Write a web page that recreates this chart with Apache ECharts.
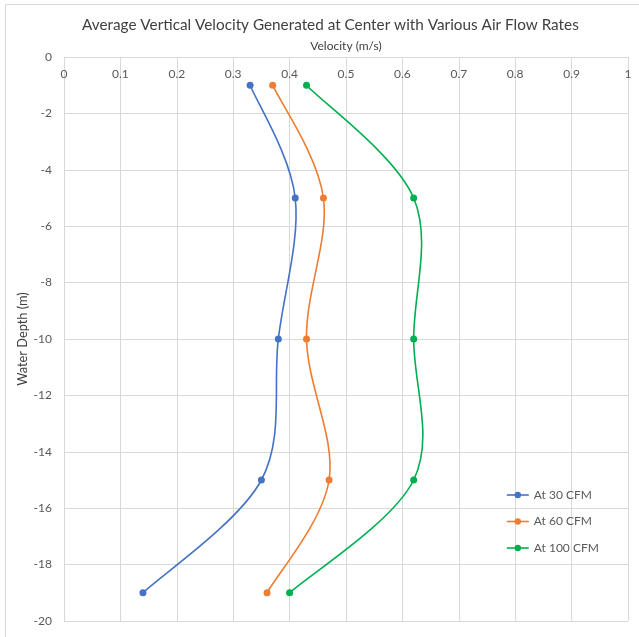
<!DOCTYPE html>
<html>
<head>
<meta charset="utf-8">
<script src="https://cdn.jsdelivr.net/npm/echarts@6/dist/echarts.min.js"></script>
<style>
  html, body { margin: 0; padding: 0; background: #ffffff; }
  #chart { width: 639px; height: 637px; }
</style>
</head>
<body>
<div id="chart"></div>
<script>
// Water depths (m) at which velocity was measured
const depths = [-1, -5, -10, -15, -19];
// Average vertical velocity (m/s) at the center for each air flow rate
const vel30 = [0.33, 0.41, 0.38, 0.35, 0.14];
const vel60 = [0.37, 0.46, 0.43, 0.47, 0.36];
const vel100 = [0.43, 0.62, 0.62, 0.62, 0.40];
const seriesNames = ['At 30 CFM', 'At 60 CFM', 'At 100 CFM'];
const seriesColors = ['#4472C4', '#ED7D31', '#00B050'];

const font = 'Lato, "Liberation Sans", sans-serif';
const textColor = '#595959';

function pairs(vals) {
  return vals.map((v, i) => [v, depths[i]]);
}

// Smoothed curve through the points (Catmull-Rom style cubic Bezier segments),
// computed in pixel space from the axis scales.
function curveRenderer(vals, color) {
  return function (params, api) {
    if (params.dataIndex !== 0) return null;
    const pts = vals.map((v, i) => api.coord([v, depths[i]]));
    const n = pts.length;
    const children = [];
    for (let i = 0; i < n - 1; i++) {
      const p0 = pts[Math.max(i - 1, 0)];
      const p1 = pts[i];
      const p2 = pts[i + 1];
      const p3 = pts[Math.min(i + 2, n - 1)];
      children.push({
        type: 'bezierCurve',
        shape: {
          x1: p1[0], y1: p1[1],
          x2: p2[0], y2: p2[1],
          cpx1: p1[0] + (p2[0] - p0[0]) / 6,
          cpy1: p1[1] + (p2[1] - p0[1]) / 6,
          cpx2: p2[0] - (p3[0] - p1[0]) / 6,
          cpy2: p2[1] - (p3[1] - p1[1]) / 6
        },
        style: { stroke: color, lineWidth: 1.6, fill: null }
      });
    }
    return { type: 'group', children: children };
  };
}

const allVals = [vel30, vel60, vel100];

const chart = echarts.init(document.getElementById('chart'), null, { renderer: 'canvas' });

chart.setOption({
  animation: false,
  backgroundColor: '#ffffff',
  textStyle: { fontFamily: font },
  title: {
    text: 'Average Vertical Velocity Generated at Center with Various Air Flow Rates',
    left: 77,
    top: 13,
    textStyle: { fontFamily: font, fontSize: 15.3, fontWeight: 'normal', color: '#404040' }
  },
  graphic: [{
    type: 'rect',
    shape: { x: 5.5, y: 4.5, width: 660, height: 660 },
    style: { fill: 'none', stroke: '#d9d9d9', lineWidth: 1 },
    silent: true
  }],
  grid: { left: 64, right: 11, top: 57, bottom: 16 },
  legend: {
    orient: 'vertical',
    left: 501,
    top: 484,
    padding: 5,
    itemGap: 14.5,
    itemWidth: 22,
    itemHeight: 8,
    textStyle: { fontFamily: font, fontSize: 12, color: textColor },
    data: seriesNames.map((name, i) => ({
      name: name,
      itemStyle: { color: seriesColors[i] },
      lineStyle: { color: seriesColors[i], width: 1.6, opacity: 1 }
    }))
  },
  xAxis: {
    type: 'value',
    position: 'top',
    min: 0,
    max: 1,
    interval: 0.1,
    name: 'Velocity (m/s)',
    nameLocation: 'middle',
    nameGap: 5,
    nameTextStyle: { fontFamily: font, fontSize: 12, color: '#404040' },
    axisLine: { show: true, onZero: false, lineStyle: { color: '#d9d9d9' } },
    axisTick: { show: false },
    axisLabel: {
      inside: true,
      margin: 11,
      fontFamily: font,
      fontSize: 12,
      color: textColor,
      formatter: v => String(Math.round(v * 10) / 10)
    },
    splitLine: { show: true, lineStyle: { color: '#d9d9d9' } }
  },
  yAxis: {
    type: 'value',
    min: -20,
    max: 0,
    interval: 2,
    name: 'Water Depth (m)',
    nameLocation: 'middle',
    nameRotate: 90,
    nameGap: 35,
    nameMoveOverlap: false,
    nameTextStyle: { fontFamily: font, fontSize: 12.8, color: '#404040' },
    axisLine: { show: false },
    axisTick: { show: false },
    axisLabel: { margin: 12, fontFamily: font, fontSize: 12, color: textColor },
    splitLine: { show: true, lineStyle: { color: '#d9d9d9' } }
  },
  series: [
    // markers at the measured points
    ...allVals.map((vals, i) => ({
      name: seriesNames[i],
      type: 'line',
      data: pairs(vals),
      symbol: 'circle',
      symbolSize: 7,
      z: 3,
      color: seriesColors[i],
      lineStyle: { opacity: 0 },
      itemStyle: { color: seriesColors[i] }
    })),
    // smoothed connecting curves
    ...allVals.map((vals, i) => ({
      name: seriesNames[i],
      type: 'custom',
      data: pairs(vals),
      z: 2,
      renderItem: curveRenderer(vals, seriesColors[i])
    }))
  ]
});
</script>
</body>
</html>
